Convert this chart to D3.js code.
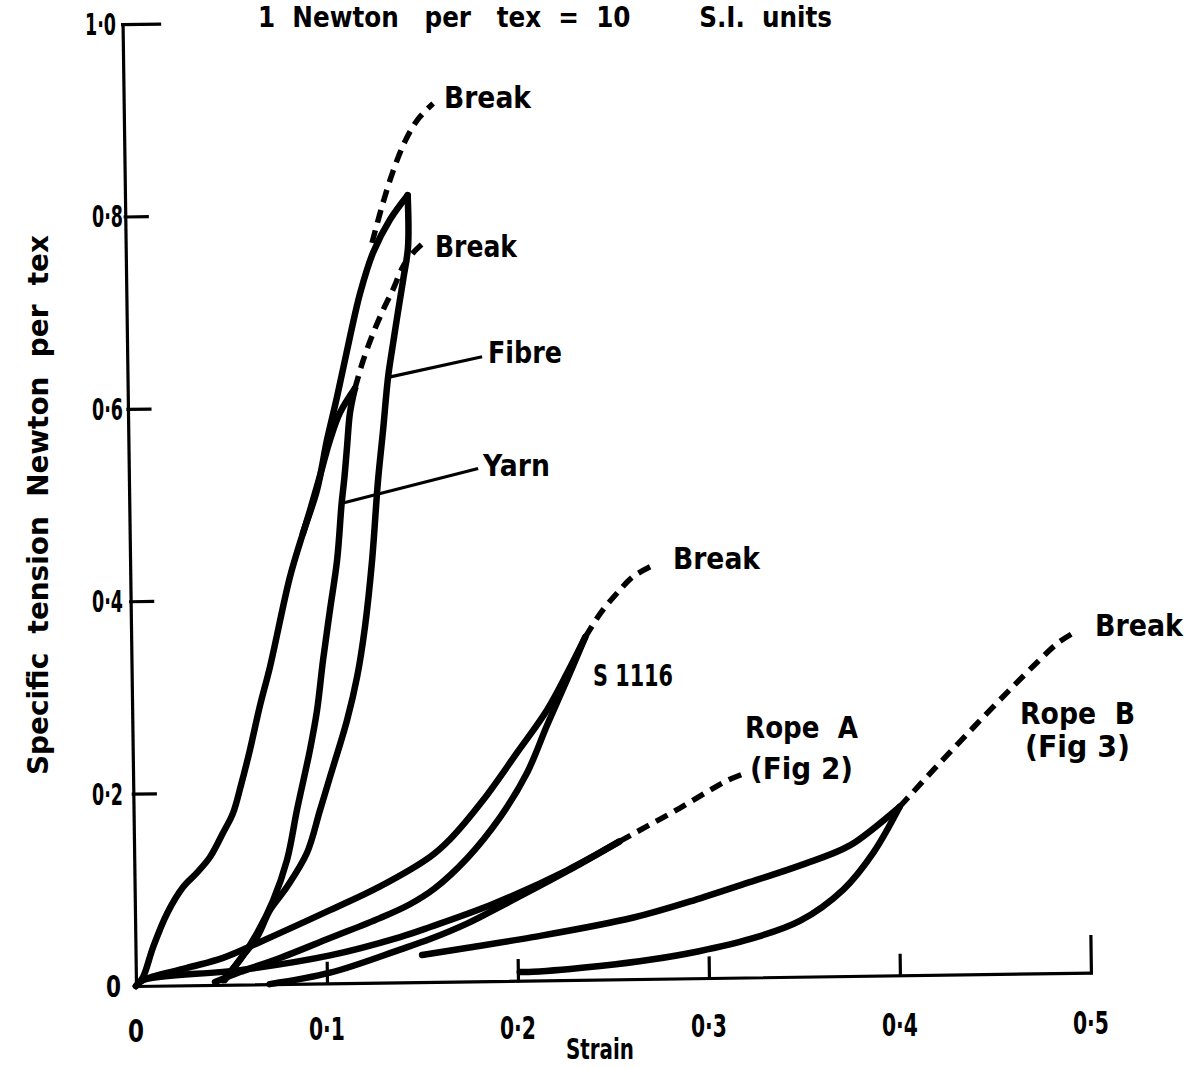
<!DOCTYPE html>
<html>
<head>
<meta charset="utf-8">
<script src="https://cdn.jsdelivr.net/npm/d3@7"></script>
<style>
  body { margin: 0; background: #fff; }
  svg text { font-family: "DejaVu Sans", sans-serif; font-weight: bold; fill: #000; white-space: pre; }
</style>
</head>
<body>
<svg id="chart" width="1193" height="1068"></svg>
<script>
// --- data: [strain, specific tension N/tex] ---
const fibreLoad = [[0,0],[0.0037,0.009],[0.0092,0.040],[0.0168,0.075],[0.0253,0.102],[0.0328,0.117],
  [0.0397,0.133],[0.0467,0.158],[0.052,0.178],[0.0564,0.207],[0.0614,0.244],[0.067,0.290],[0.0725,0.330],
  [0.0836,0.423],[0.0907,0.468],[0.0984,0.513],[0.104,0.565],[0.1095,0.609],[0.1168,0.672],[0.1224,0.717],
  [0.1295,0.759],[0.1386,0.793],[0.148,0.818]];
const fibreUnload = [[0.148,0.818],[0.1478,0.764],[0.145,0.730],[0.142,0.696],[0.139,0.661],[0.1364,0.629],
  [0.1334,0.574],[0.1304,0.522],[0.1267,0.439],[0.1225,0.370],[0.118,0.318],[0.1124,0.273],[0.1031,0.2145],
  [0.0976,0.180],[0.0905,0.136],[0.0798,0.101],[0.0707,0.077],[0.0637,0.049],[0.0546,0.026],[0.0466,0.005]];
const fibreBreak = [[0.129,0.769],[0.1345,0.807],[0.1405,0.843],[0.147,0.874],[0.154,0.897],[0.162,0.913]];

const yarnLoad = [[0.0907,0.468],[0.0946,0.492],[0.1001,0.528],[0.1056,0.565],[0.111,0.593],[0.119,0.618]];
const yarnUnload = [[0.119,0.618],[0.1162,0.5925],[0.1144,0.557],[0.1128,0.525],[0.1112,0.499],[0.1084,0.440],
  [0.1043,0.388],[0.1003,0.336],[0.0968,0.284],[0.0928,0.243],[0.0856,0.181],[0.080,0.129],[0.0724,0.087],
  [0.0637,0.053],[0.0546,0.0255],[0.0456,0.005]];
const yarnBreak = [[0.119,0.618],[0.1235,0.647],[0.1289,0.675],[0.1343,0.699],[0.1396,0.720],[0.1451,0.744],
  [0.1504,0.758],[0.1557,0.768]];

const s1116Load = [[0,0],[0.0037,0.006],[0.0268,0.018],[0.0458,0.028],[0.0653,0.044],[0.1021,0.076],
  [0.1285,0.100],[0.1549,0.130],[0.1655,0.148],[0.183,0.188],[0.2012,0.237],[0.2172,0.281],[0.228,0.319],
  [0.2377,0.356]];
const s1116Unload = [[0.2377,0.356],[0.2279,0.312],[0.2171,0.265],[0.2063,0.216],[0.1918,0.170],[0.1743,0.128],
  [0.157,0.097],[0.144,0.081],[0.1282,0.067],[0.1019,0.047],[0.0756,0.027],[0.0546,0.013],[0.0414,0.003]];
const s1116Break = [[0.2377,0.356],[0.246,0.381],[0.255,0.402],[0.263,0.418],[0.274,0.430]];

const ropeAUpper = [[0,0],[0.0037,0.006],[0.0546,0.015],[0.1018,0.029],[0.1386,0.047],[0.1544,0.057],
  [0.1875,0.080],[0.2265,0.114],[0.254,0.143]];
const ropeALower = [[0.070,0.0],[0.1017,0.011],[0.1385,0.034],[0.1543,0.0445],[0.1737,0.060],[0.191,0.077],
  [0.2265,0.113],[0.254,0.143]];
const ropeABreak = [[0.254,0.143],[0.27,0.160],[0.286,0.177],[0.300,0.193],[0.311,0.205],[0.320,0.212]];

const ropeBLoad = [[0.150,0.028],[0.174,0.035],[0.208,0.045],[0.261,0.064],[0.296,0.083],[0.322,0.099],
  [0.349,0.116],[0.375,0.136],[0.401,0.175]];
const ropeBUnload = [[0.401,0.175],[0.387,0.128],[0.371,0.090],[0.348,0.058],[0.322,0.040],[0.295,0.028],
  [0.270,0.020],[0.243,0.014],[0.208,0.009],[0.201,0.009]];
const ropeBBreak = [[0.401,0.175],[0.42,0.215],[0.44,0.256],[0.46,0.296],[0.475,0.325],[0.485,0.343],[0.493,0.353]];

// leader lines from labels to curves
const fibreLeader = [[0.1364,0.629],[0.1858,0.649]];
const yarnLeader = [[0.1119,0.499],[0.1829,0.533]];

const xTicks = [0.1, 0.2, 0.3, 0.4, 0.5];
const yTicks = [0.2, 0.4, 0.6, 0.8, 1.0];
const xTickLabels = [0, 0.1, 0.2, 0.3, 0.4, 0.5];
const yTickLabels = [0, 0.2, 0.4, 0.6, 0.8, 1.0];

// --- setup ---
const svg = d3.select("#chart");
const x = d3.scaleLinear().domain([0, 0.5]).range([136, 1091]);
const y = d3.scaleLinear().domain([0, 1]).range([986, 24]);

// the scanned figure sits slightly rotated on the page
const angle = -0.8;
const plot = svg.append("g")
  .attr("transform", `rotate(${angle},${x(0)},${y(0)})`);

function rot(px, py) {
  const a = angle * Math.PI / 180, cx = x(0), cy = y(0);
  return [cx + (px - cx) * Math.cos(a) - (py - cy) * Math.sin(a),
          cy + (px - cx) * Math.sin(a) + (py - cy) * Math.cos(a)];
}

// --- axes ---
const yAxis = d3.axisLeft(y).tickValues(yTicks).tickSize(-22).tickSizeOuter(0).tickFormat("");
const yg = plot.append("g").attr("transform", `translate(${x(0)},0)`).call(yAxis);
yg.selectAll(".tick line").attr("x2", d => d === 1 ? 37 : 22);

const xAxis = d3.axisBottom(x).tickValues(xTicks).tickSize(-20).tickSizeOuter(0).tickFormat("");
const xg = plot.append("g").attr("transform", `translate(0,${y(0)})`).call(xAxis);
xg.selectAll(".tick line").attr("y2", d => d === 0.5 ? -36 : -20);

plot.selectAll(".domain, .tick line")
  .attr("stroke", "#000")
  .attr("stroke-width", 3.2)
  .attr("stroke-linecap", "square");

// --- curves ---
const line = d3.line()
  .x(d => x(d[0]))
  .y(d => y(d[1]))
  .curve(d3.curveCatmullRom.alpha(0.5));

const solid = [fibreLoad, fibreUnload, yarnLoad, yarnUnload, s1116Load, s1116Unload,
  ropeAUpper, ropeALower, ropeBLoad, ropeBUnload];
const dashed = [fibreBreak, yarnBreak, s1116Break, ropeABreak, ropeBBreak];

plot.selectAll(".solid")
  .data(solid)
  .enter()
  .append("path")
  .attr("class", "solid")
  .attr("d", line)
  .attr("fill", "none")
  .attr("stroke", "#000")
  .attr("stroke-width", 6.5)
  .attr("stroke-linecap", "round")
  .attr("stroke-linejoin", "round");

plot.selectAll(".dashed")
  .data(dashed)
  .enter()
  .append("path")
  .attr("class", "dashed")
  .attr("d", line)
  .attr("fill", "none")
  .attr("stroke", "#000")
  .attr("stroke-width", 5.5)
  .attr("stroke-dasharray", "13,8")
  .attr("stroke-linecap", "butt");

plot.selectAll(".leader")
  .data([fibreLeader, yarnLeader])
  .enter()
  .append("path")
  .attr("class", "leader")
  .attr("d", d3.line().x(d => x(d[0])).y(d => y(d[1])))
  .attr("stroke", "#000")
  .attr("stroke-width", 3.2);

// --- text ---
function label(txt, px, py, size, len, anchor) {
  const t = svg.append("text")
    .attr("x", px)
    .attr("y", py)
    .attr("font-size", size)
    .text(txt);
  if (anchor) t.attr("text-anchor", anchor);
  if (len) t.attr("textLength", len).attr("lengthAdjust", "spacingAndGlyphs");
  return t;
}
const fmt = v => v === 0 ? "0" : v.toFixed(1).replace(".", "\u00b7");

xTickLabels.forEach(v => {
  const p = rot(x(v), y(0));
  label(fmt(v), p[0], 1042 - v * 16, 32, v === 0 ? 16 : 36, "middle");
});
yTickLabels.forEach(v => {
  const right = v === 1 ? 116 : v === 0 ? 121 : 123;
  label(fmt(v), right, y(v) + 11, 31, v === 0 ? 15 : 31, "end");
});

label("Strain", 600, 1059, 29, 68, "middle");
label("Specific  tension  Newton  per  tex", 0, 0, 29, 540, "middle")
  .attr("transform", "translate(48,505) rotate(-90)");
label("1  Newton   per   tex  =  10        S.I.  units", 258, 27, 28, 574);

label("Break", 444, 108, 30, 87);
label("Break", 435, 257, 30, 82);
label("Fibre", 488, 363, 31, 74);
label("Yarn", 483, 476, 31, 67);
label("Break", 673, 569, 30, 87);
label("S 1116", 593, 686, 31, 80);
label("Rope  A", 745, 738, 31, 113);
label("(Fig 2)", 750, 779, 31, 103);
label("Break", 1095, 636, 30, 88);
label("Rope  B", 1020, 724, 31, 115);
label("(Fig 3)", 1025, 757, 31, 105);
</script>
</body>
</html>
